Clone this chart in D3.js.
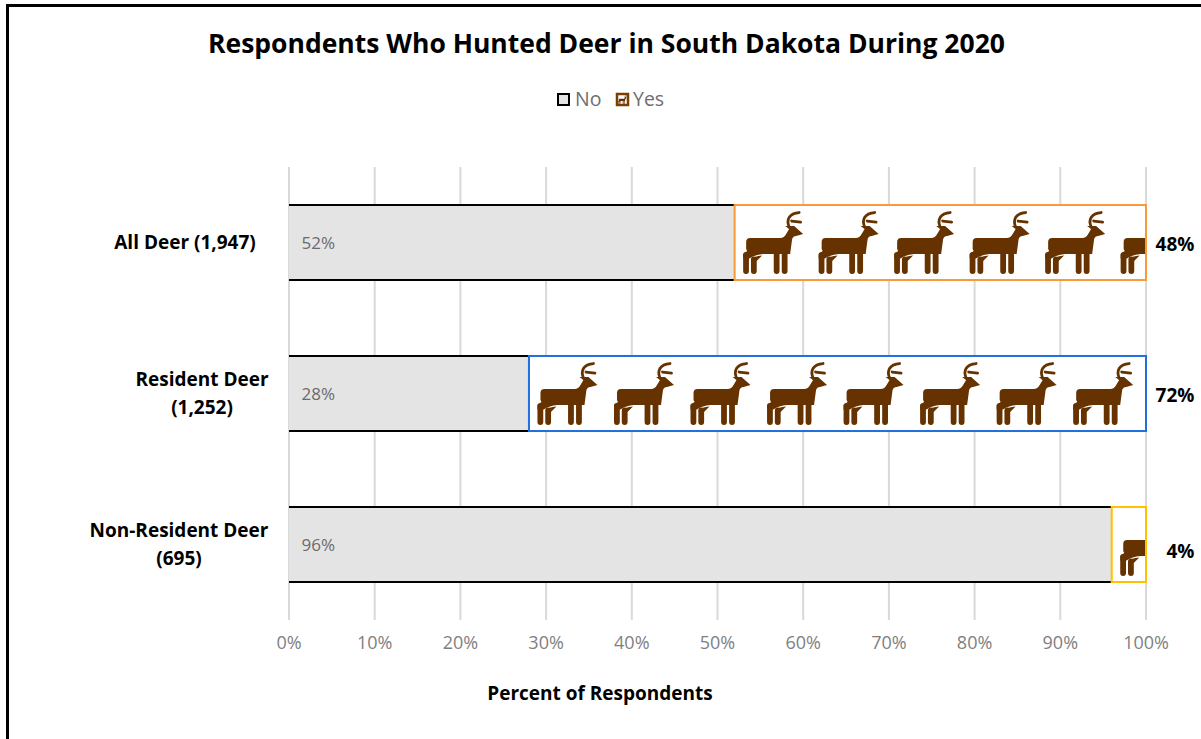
<!DOCTYPE html>
<html>
<head>
<meta charset="utf-8">
<script src="https://cdn.jsdelivr.net/npm/d3@7"></script>
<style>
  html, body { margin: 0; padding: 0; background: #fff; }
  svg { display: block; font-family: "Open Sans", "Noto Sans", sans-serif; }
</style>
</head>
<body>
<svg id="chart" width="1201" height="739"></svg>
<script>
const categories = [["All Deer (1,947)"], ["Resident Deer", "(1,252)"], ["Non-Resident Deer", "(695)"]];
const noValues = [52, 28, 96];
const yesValues = [48, 72, 4];
const iconCounts = [6, 8, 1];
const iconSteps = [8.81, 8.93, 8.93];
const yesColours = ["#f79a3a", "#1f6fe0", "#ffc000"];
const xTicks = [0, 10, 20, 30, 40, 50, 60, 70, 80, 90, 100];

const brown = "#663300";
const grey = "#7f7f7f";

const svg = d3.select("#chart");

// outer frame, only top and left show inside the screenshot
svg.append("path")
    .attr("d", "M7.5,739V5.5H1201")
    .attr("fill", "none")
    .attr("stroke", "#000")
    .attr("stroke-width", 3);

const x = d3.scaleLinear().domain([0, 100]).range([289, 1146]);
const y = d3.scaleBand().domain(d3.range(categories.length)).range([167, 620]);
const barHeight = y.bandwidth() * 0.497;
const barTop = (i) => y(i) + (y.bandwidth() - barHeight) / 2;

const defs = svg.append("defs");

// deer icon, 60 wide and 63 tall
const deer = defs.append("g").attr("id", "deer");
deer.append("path")
    .attr("fill", brown)
    .attr("d", "M3,31 Q3,27 7,27 L37,27 Q41,27 43,23 L46,18 L42,15 L51,15 L60,23 L53,25 Q50,25 49,28 L47,43 L20,43 Q12,43.500 6.300,47.500 L0,47.500 L0,43 L4,40 L3,38 Z");
deer.append("path")
    .attr("fill", brown)
    .attr("d", "M7.800,48.500 Q11,45.200 19,44.600 L13.500,50 Z");
deer.append("path")
    .attr("fill", "none")
    .attr("stroke", brown)
    .attr("stroke-width", 5.8)
    .attr("stroke-linecap", "round")
    .attr("d", "M2.900,44V60.100M10.700,48.500V60.100M33.500,40V60.100M41.500,40V60.100");
deer.append("path")
    .attr("fill", "none")
    .attr("stroke", brown)
    .attr("stroke-width", 2.8)
    .attr("stroke-linecap", "round")
    .attr("d", "M46,16 C43,9 46,2 56,1.500 M48.500,10 L57.500,11");

// title
svg.append("text")
    .attr("x", 606.500)
    .attr("y", 53)
    .attr("text-anchor", "middle")
    .attr("font-size", 26.500)
    .attr("font-weight", 700)
    .attr("fill", "#000")
    .text("Respondents Who Hunted Deer in South Dakota During 2020");

// legend
const legend = svg.append("g");
legend.append("rect")
    .attr("x", 558).attr("y", 94).attr("width", 11).attr("height", 11)
    .attr("fill", "#e4e4e4").attr("stroke", "#000").attr("stroke-width", 2);
legend.append("text")
    .attr("x", 575).attr("y", 106)
    .attr("font-size", 19.500).attr("fill", "#6e6e6e")
    .text("No");
legend.append("rect")
    .attr("x", 617).attr("y", 94).attr("width", 11).attr("height", 11)
    .attr("fill", "#fff").attr("stroke", "#7a3f00").attr("stroke-width", 2.5);
legend.append("use")
    .attr("href", "#deer")
    .attr("transform", "translate(618.500,95) scale(0.14)");
legend.append("text")
    .attr("x", 633).attr("y", 106)
    .attr("font-size", 19.500).attr("fill", "#6e6e6e")
    .text("Yes");

// gridlines and tick labels
const axis = d3.axisBottom(x)
    .tickValues(xTicks)
    .tickFormat((d) => d + "%")
    .tickSize(453)
    .tickPadding(16)
    .offset(0);

const axisG = svg.append("g")
    .attr("transform", "translate(0,167)")
    .call(axis);
axisG.select(".domain").remove();
axisG.selectAll("line")
    .attr("stroke", "#d9d9d9")
    .attr("stroke-width", 2);
axisG.selectAll("text")
    .attr("fill", grey)
    .attr("font-size", 18)
    .attr("font-family", "'Open Sans', 'Noto Sans', sans-serif");

// No bars
categories.forEach((c, i) => {
    const top = barTop(i);
    const xEnd = x(noValues[i]);
    svg.append("rect")
        .attr("x", x(0)).attr("y", top)
        .attr("width", xEnd - x(0)).attr("height", barHeight)
        .attr("fill", "#e4e4e4");
    svg.append("path")
        .attr("d", `M${x(0)},${top}H${xEnd}M${x(0)},${top + barHeight}H${xEnd}`)
        .attr("stroke", "#000")
        .attr("stroke-width", 2)
        .attr("fill", "none");
    svg.append("text")
        .attr("x", x(0) + 12.500)
        .attr("y", top + barHeight / 2 + 6.500)
        .attr("font-size", 17)
        .attr("fill", "#6b6b6b")
        .text(noValues[i] + "%");
});

// Yes bars, white with a repeated deer clipped to the bar
categories.forEach((c, i) => {
    const top = barTop(i);
    const xStart = x(noValues[i]);
    const w = x(noValues[i] + yesValues[i]) - xStart;
    defs.append("clipPath")
        .attr("id", `clip${i}`)
        .append("rect")
        .attr("x", xStart).attr("y", top)
        .attr("width", w).attr("height", barHeight);
    svg.append("rect")
        .attr("x", xStart).attr("y", top)
        .attr("width", w).attr("height", barHeight)
        .attr("fill", "#fff");
    svg.append("g")
        .attr("clip-path", `url(#clip${i})`)
        .selectAll("use")
        .data(d3.range(iconCounts[i]))
        .enter().append("use")
        .attr("href", "#deer")
        .attr("transform", (d) => `translate(${x(noValues[i] + d * iconSteps[i]) + 8.5},${top + barHeight - 69})`);
    svg.append("rect")
        .attr("x", xStart).attr("y", top)
        .attr("width", w).attr("height", barHeight)
        .attr("fill", "none")
        .attr("stroke", yesColours[i])
        .attr("stroke-width", 2);
    svg.append("text")
        .attr("x", i === 2 ? 1180.500 : 1175)
        .attr("y", top + barHeight / 2 + (i === 2 ? 13 : 8))
        .attr("text-anchor", "middle")
        .attr("font-size", 19)
        .attr("font-weight", 700)
        .attr("fill", "#000")
        .text(yesValues[i] + "%");
});

// category labels
categories.forEach((lines, i) => {
    const mid = y(i) + y.bandwidth() / 2;
    const text = svg.append("text")
        .attr("text-anchor", "middle")
        .attr("font-size", 19)
        .attr("font-weight", 700)
        .attr("fill", "#000");
    const cx = i === 0 ? 185 : i === 1 ? 202 : 179;
    lines.forEach((line, k) => {
        text.append("tspan")
            .attr("x", cx)
            .attr("y", mid + 6 + (k - (lines.length - 1) / 2) * 28)
            .text(line);
    });
});

// axis title
svg.append("text")
    .attr("x", 600)
    .attr("y", 700)
    .attr("text-anchor", "middle")
    .attr("font-size", 19)
    .attr("font-weight", 700)
    .attr("fill", "#000")
    .text("Percent of Respondents");
</script>
</body>
</html>
